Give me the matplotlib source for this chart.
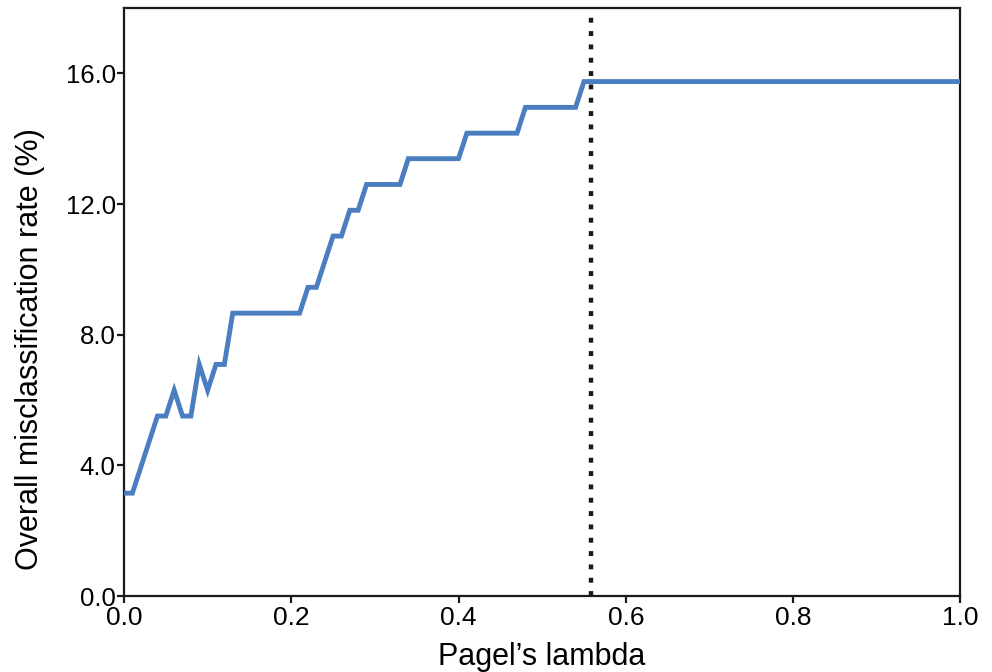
import matplotlib
matplotlib.use('Agg')
import matplotlib.pyplot as plt
from matplotlib.ticker import FormatStrFormatter

# Vertices of the misclassification curve
pagel_lambda = [0.00, 0.01, 0.04, 0.05, 0.06, 0.07, 0.08, 0.09, 0.10, 0.11,
                0.12, 0.13, 0.21, 0.22, 0.23, 0.25, 0.26, 0.27, 0.28, 0.29,
                0.33, 0.34, 0.40, 0.41, 0.47, 0.48, 0.54, 0.55, 1.00]
misclass_rate = [3.15, 3.15, 5.51, 5.51, 6.30, 5.51, 5.51, 7.09, 6.30, 7.09,
                 7.09, 8.66, 8.66, 9.45, 9.45, 11.02, 11.02, 11.81, 11.81, 12.60,
                 12.60, 13.39, 13.39, 14.17, 14.17, 14.96, 14.96, 15.75, 15.75]
lambda_cutoff = 0.558

x_ticks = [0.0, 0.2, 0.4, 0.6, 0.8, 1.0]
y_ticks = [0.0, 4.0, 8.0, 12.0, 16.0]

plt.rcParams['font.family'] = ['Liberation Sans', 'DejaVu Sans']

fig = plt.figure(figsize=(9.92, 6.72), dpi=100)
ax = fig.add_axes([0.125, 0.113, 0.843, 0.875])

ax.plot(pagel_lambda, misclass_rate, color='#4a7ec0', lw=3.5,
        solid_joinstyle='miter', zorder=3)
ax.axvline(lambda_cutoff, ymax=0.99, color='#1a1a1a', lw=3.2,
           linestyle=(0, (1.1, 1.9)), zorder=2)

ax.set_xlim(0, 1.0)
ax.set_ylim(0, 18)
ax.set_xticks(x_ticks)
ax.set_yticks(y_ticks)
ax.xaxis.set_major_formatter(FormatStrFormatter('%.1f'))
ax.yaxis.set_major_formatter(FormatStrFormatter('%.1f'))

for s in ax.spines.values():
    s.set_linewidth(1.6)
    s.set_color('#1a1a1a')
ax.tick_params(axis='both', direction='out', length=5, width=1.6,
               color='#1a1a1a', labelsize=18.5, pad=1)
ax.tick_params(axis='x', labelsize=19, pad=2)

ax.set_xlabel('Pagel\u2019s lambda', fontsize=22, labelpad=9)
ax.set_ylabel('Overall misclassification rate (%)', fontsize=22)
ax.yaxis.set_label_coords(-0.094, 0.42)

fig.savefig('out.png', dpi=100)
